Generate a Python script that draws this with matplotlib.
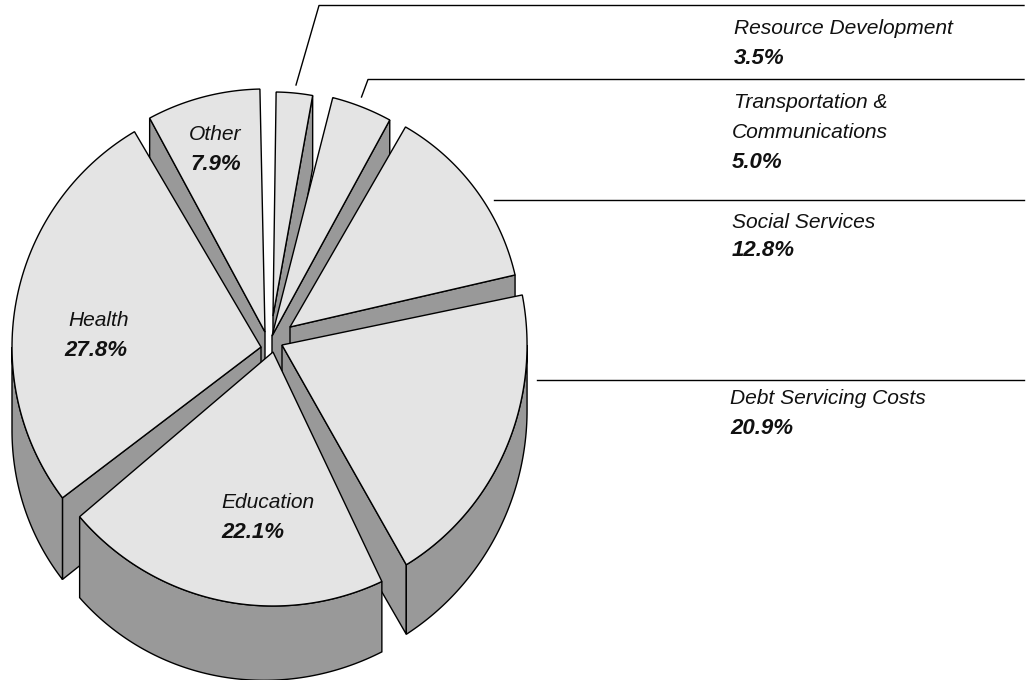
import numpy as np
import matplotlib
matplotlib.use("Agg")
import matplotlib.pyplot as plt
from matplotlib.patches import Polygon

# values, clockwise from 12 o'clock
categories = ["Resource Development", "Transportation & Communications", "Social Services",
              "Debt Servicing Costs", "Education", "Health", "Other"]
shares = [3.5, 5.0, 12.8, 20.9, 22.1, 27.8, 7.9]

# layout of each slice: where its point sits, radius, degrees trimmed at each end
apex_x = [273, 272, 290, 282, 273, 261, 265]
apex_y = [316, 336, 327, 345, 352, 347, 332]
radius = [224, 246, 231, 255, 254, 250, 243]
squash_x = [1, 1, 1, 0.961, 1, 0.996, 1]
trim_start = [0.8, 1.7, -0.6, 2.0, 2.7, 1.4, 0.1]
trim_end = [2.4, 2.0, -0.3, 2.4, 1.9, 2.1, 1.2]

# back to front
draw_order = [0, 1, 6, 2, 5, 3, 4]

TOP = "#e4e4e4"
SIDE = "#999999"
FONT = "Liberation Sans"


def depth(x):
    # thicker on the left, the pie is drawn in perspective
    return 75 - 0.035 * (x - 250)


def down(pts):
    pts = np.asarray(pts, dtype=float)
    return np.column_stack([pts[:, 0], pts[:, 1] + depth(pts[:, 0])])


def arc(i, a0, a1):
    t = np.radians(np.linspace(a0, a1, 80))
    return np.column_stack([apex_x[i] + squash_x[i] * radius[i] * np.sin(t), apex_y[i] - radius[i] * np.cos(t)])


fig = plt.figure(figsize=(10.29, 6.80), dpi=100)
ax = fig.add_axes([0, 0, 1, 1])
ax.set_xlim(0, 1029)
ax.set_ylim(680, 0)
ax.axis("off")

edges = np.cumsum([0] + shares) * 3.6

for i in draw_order:
    a0 = edges[i] + trim_start[i]
    a1 = edges[i + 1] - trim_end[i]
    p = np.array([[apex_x[i], apex_y[i]]], dtype=float)
    top = arc(i, a0, a1)

    # side walls that face the viewer
    if np.sin(np.radians(a1)) > 0:
        wall = np.vstack([p, top[-1:]])
        ax.add_patch(Polygon(np.vstack([wall, down(wall)[::-1]]), fc=SIDE, ec="black", lw=1))
    if np.sin(np.radians(a0)) < 0:
        wall = np.vstack([p, top[:1]])
        ax.add_patch(Polygon(np.vstack([wall, down(wall)[::-1]]), fc=SIDE, ec="black", lw=1))

    # rim
    b0, b1 = max(a0, 90), min(a1, 270)
    if b1 > b0:
        rim = arc(i, b0, b1)
        ax.add_patch(Polygon(np.vstack([rim, down(rim)[::-1]]), fc=SIDE, ec="black", lw=1))

    ax.add_patch(Polygon(np.vstack([p, top]), fc=TOP, ec="black", lw=1, joinstyle="miter"))


def label(x, y, lines, value):
    for k, s in enumerate(lines):
        ax.text(x[k], y[k] + 1, s, family=FONT, style="italic", fontsize=15.1, color="#111111", va="center")
    ax.text(x[-1], y[-1] + 1, value, family=FONT, style="italic", weight="bold", fontsize=16, color="#111111", va="center")


label([734, 734], [27, 57], ["Resource Development"], "3.5%")
label([734, 732, 732], [102, 132, 162], ["Transportation &", "Communications"], "5.0%")
label([732, 732], [221, 250], ["Social Services"], "12.8%")
label([730, 730], [398, 428], ["Debt Servicing Costs"], "20.9%")
label([221, 221], [502, 532], ["Education"], "22.1%")
label([68, 64], [320, 350], ["Health"], "27.8%")
label([189, 190], [134, 164], ["Other"], "7.9%")

# leader lines
ax.plot([296, 319, 1024], [85, 5.5, 5.5], color="black", lw=1)
ax.plot([361.5, 368, 1024], [97, 79.5, 79.5], color="black", lw=1)
ax.plot([494, 1024], [199.5, 199.5], color="black", lw=1)
ax.plot([537, 1024], [380, 380], color="black", lw=1)

fig.savefig("out.png", dpi=100)
